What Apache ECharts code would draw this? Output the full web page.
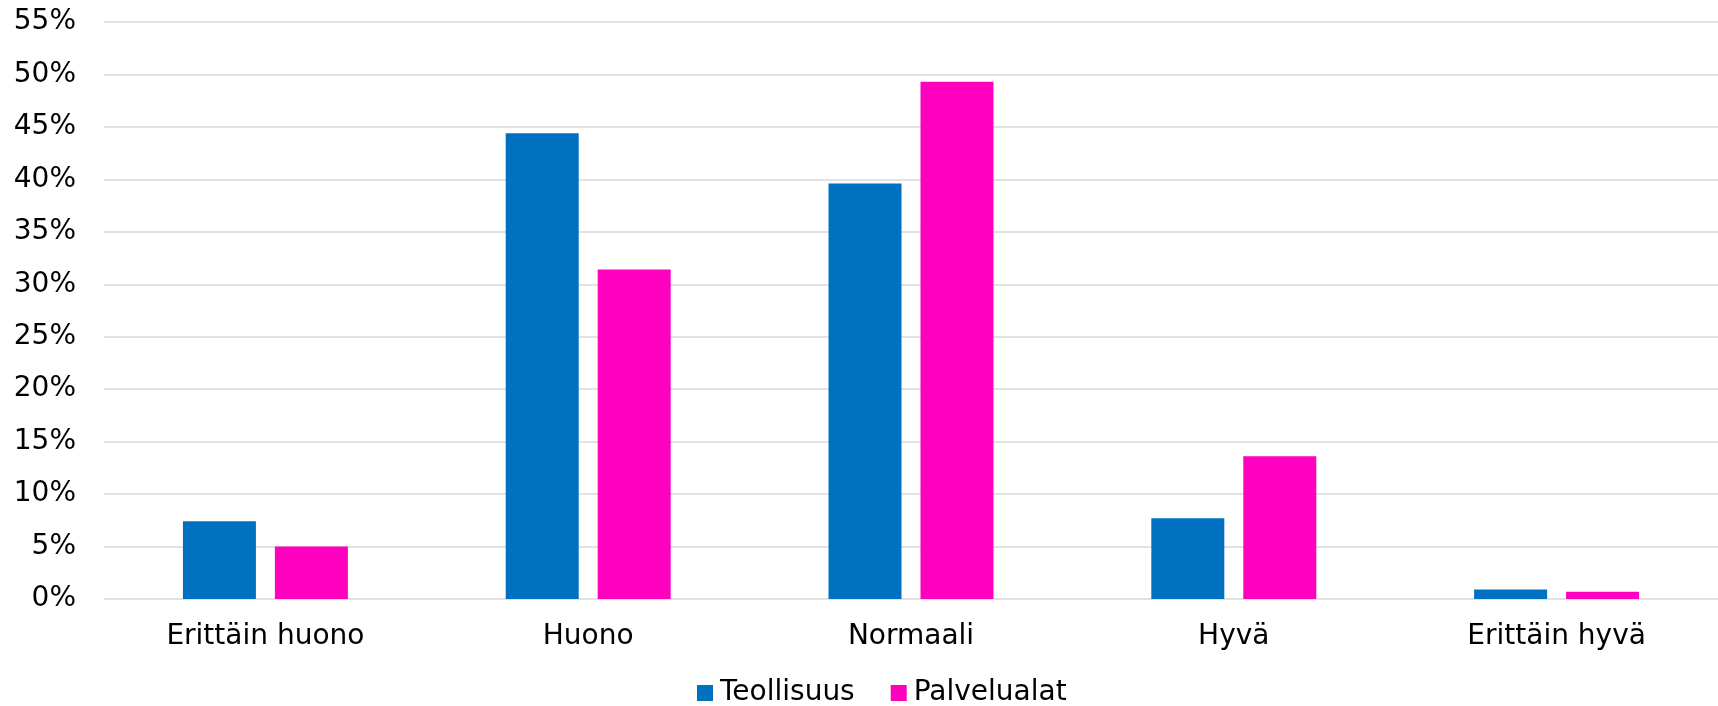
<!DOCTYPE html>
<html>
<head>
<meta charset="utf-8">
<script src="https://cdn.jsdelivr.net/npm/echarts@6/dist/echarts.min.js"></script>
<style>
  html, body { margin: 0; padding: 0; background: #ffffff; }
  #chart { width: 1718px; height: 706px; }
</style>
</head>
<body>
<div id="chart"></div>
<script>
const categories = ['Erittäin huono', 'Huono', 'Normaali', 'Hyvä', 'Erittäin hyvä'];
const teollisuus = [7.4, 44.4, 39.6, 7.7, 0.9];
const palvelualat = [5.0, 31.4, 49.3, 13.6, 0.7];
const seriesNames = ['Teollisuus', 'Palvelualat'];

const FONT = 'DejaVu Sans';
const chart = echarts.init(document.getElementById('chart'), null, { renderer: 'canvas' });
chart.setOption({
  animation: false,
  backgroundColor: '#ffffff',
  grid: { left: 104, right: -10, top: 22, bottom: 107, containLabel: false },
  legend: {
    data: seriesNames,
    left: 692,
    top: 674,
    icon: 'rect',
    itemWidth: 16,
    itemHeight: 16,
    itemGap: 36,
    textStyle: { fontFamily: FONT, fontSize: 28, color: '#000000', padding: [0, 0, 0, 2] }
  },
  xAxis: {
    type: 'category',
    data: categories,
    axisLine: { show: false },
    axisTick: { show: false },
    axisLabel: { fontFamily: FONT, fontSize: 28, color: '#000000', margin: 24, interval: 0 }
  },
  yAxis: {
    type: 'value',
    min: 0,
    max: 55,
    interval: 5,
    axisLine: { show: false },
    axisTick: { show: false },
    axisLabel: { fontFamily: FONT, fontSize: 28, color: '#000000', margin: 28, formatter: '{value}%' },
    splitLine: { lineStyle: { color: '#d9d9d9', width: 1.5 } }
  },
  series: [
    {
      name: seriesNames[0],
      type: 'bar',
      data: teollisuus,
      barWidth: 73,
      barGap: '26%',
      itemStyle: { color: '#0070C0' }
    },
    {
      name: seriesNames[1],
      type: 'bar',
      data: palvelualat,
      barWidth: 73,
      barGap: '26%',
      itemStyle: { color: '#FF00BF' }
    }
  ]
});
</script>
</body>
</html>
